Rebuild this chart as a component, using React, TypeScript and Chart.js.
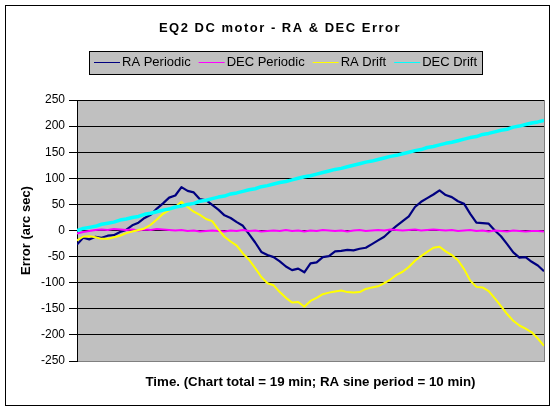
import React, { useEffect, useRef } from "react";
import { Chart, registerables } from "chart.js";

Chart.register(...registerables);

// ---- data ----
const TIME_MIN = [
  0, 0.25, 0.5, 0.75, 1, 1.25, 1.5, 1.75, 2, 2.25, 2.5, 2.75, 3, 3.25, 3.5, 3.75,
  4, 4.25, 4.5, 4.75, 5, 5.25, 5.5, 5.75, 6, 6.25, 6.5, 6.75, 7, 7.25, 7.5, 7.75,
  8, 8.25, 8.5, 8.75, 9, 9.25, 9.5, 9.75, 10, 10.25, 10.5, 10.75, 11, 11.25, 11.5,
  11.75, 12, 12.25, 12.5, 12.75, 13, 13.25, 13.5, 13.75, 14, 14.25, 14.5, 14.75,
  15, 15.25, 15.5, 15.75, 16, 16.25, 16.5, 16.75, 17, 17.25, 17.5, 17.75, 18,
  18.25, 18.5, 18.75, 19,
];

const RA_PERIODIC = [
  -27, -14, -17, -12, -14, -10, -9, -3, 1, 10,
  15, 24, 30, 42, 52, 63, 67, 83, 76, 73,
  60, 58, 49, 40, 29, 24, 16, 9, -7, -23,
  -41, -47, -51, -59, -69, -76, -73, -80, -63, -61,
  -51, -49, -40, -39, -37, -38, -35, -33, -26, -19,
  -12, -1, 9, 18, 27, 45, 55, 62, 69, 77,
  68, 64, 56, 51, 32, 15, 14, 13, 0, -11,
  -26, -42, -52, -51, -60, -67, -78,
];

const DEC_PERIODIC = [
  -6, -3, -1, 1, 2, 1, 3, 2, 1, 2,
  0, 2, 1, 3, 2, 1, 0, 1, -1, 0,
  -2, -1, 0, -1, -2, 0, -1, 1, -1, 0,
  -2, -1, 0, -1, 1, -1, 0, -2, 0, -1,
  1, 0, -1, 0, -2, 0, 1, -1, 0, 1,
  0, 2, 1, 0, 1, 2, 0, 1, 2, 1,
  0, 1, -1, 0, 1, -1, 0, -2, 0, -1,
  -2, 0, -1, -2, -1, -1, -2,
];

const RA_DRIFT = [
  -19, -12, -11, -13, -16, -16, -13, -10, -5, -2,
  1, 4, 11, 21, 32, 39, 45, 55, 45, 36,
  30, 22, 18, 2, -12, -21, -29, -44, -56, -72,
  -89, -101, -105, -118, -129, -138, -137, -146, -135, -129,
  -122, -119, -117, -115, -118, -119, -118, -112, -109, -107,
  -101, -94, -85, -79, -70, -58, -49, -41, -33, -31,
  -40, -47, -57, -74, -96, -108, -109, -116, -130, -145,
  -160, -173, -182, -188, -195, -207, -221,
];

const DEC_DRIFT = [
  0, 4, 6, 8, 12, 14, 16, 20, 22, 25,
  27, 31, 33, 36, 39, 41, 45, 47, 50, 52,
  56, 58, 61, 64, 66, 70, 72, 75, 78, 80,
  84, 86, 89, 92, 94, 97, 100, 103, 105, 108,
  111, 114, 117, 119, 122, 125, 128, 131, 133, 136,
  139, 142, 144, 147, 150, 153, 155, 159, 161, 164,
  167, 169, 172, 175, 178, 180, 184, 186, 189, 192,
  194, 198, 200, 203, 206, 208, 211,
];

const SERIES_NAMES = ["RA Periodic", "DEC Periodic", "RA Drift", "DEC Drift"];
const SERIES_VALUES = [RA_PERIODIC, DEC_PERIODIC, RA_DRIFT, DEC_DRIFT];
const SERIES_COLORS = ["#000080", "#FF00FF", "#FFFF00", "#00FFFF"];
const SERIES_WIDTHS = [2.2, 2, 2, 3.5];

const Y_MIN = -250;
const Y_MAX = 250;
const Y_STEP = 50;

const TITLE = "EQ2 DC motor - RA & DEC Error";
const X_TITLE = "Time. (Chart total = 19 min; RA sine period = 10 min)";
const Y_TITLE = "Error (arc sec)";

const FONT = '"Liberation Sans", Arial, Helvetica, sans-serif';

// ---- decoration plugin: plot background, frame, title and legend ----
const excelLook = {
  id: "excelLook",
  beforeDraw(chart: any) {
    const { ctx, chartArea: a } = chart;
    ctx.save();
    ctx.fillStyle = "#C0C0C0";
    ctx.fillRect(a.left, a.top, a.right - a.left, a.bottom - a.top);
    ctx.restore();
  },
  afterDraw(chart: any) {
    const { ctx, chartArea: a } = chart;
    ctx.save();

    // plot area right edge (gray)
    ctx.strokeStyle = "#808080";
    ctx.lineWidth = 1;
    ctx.beginPath();
    ctx.moveTo(Math.round(a.right) + 0.5, a.top);
    ctx.lineTo(Math.round(a.right) + 0.5, a.bottom + 1);
    ctx.stroke();

    // outer chart frame
    ctx.strokeStyle = "#000";
    ctx.strokeRect(5.5, 5.5, 544, 400);

    // title
    ctx.fillStyle = "#000";
    ctx.font = `bold 13px ${FONT}`;
    (ctx as any).letterSpacing = "1.5px";
    ctx.textAlign = "center";
    ctx.textBaseline = "alphabetic";
    ctx.fillText(TITLE, 280, 31.5);
    (ctx as any).letterSpacing = "0px";

    // legend
    ctx.font = `13px ${FONT}`;
    const lineLen = 26;
    const gapAfterLine = 2;
    const gapItems = 8;
    const pad = 5;
    const widths = chart.data.datasets.map((d: any) => ctx.measureText(d.label).width);
    let total = 0;
    widths.forEach((w: number) => (total += lineLen + gapAfterLine + w));
    total += gapItems * (widths.length - 1);
    const boxW = Math.round(total + pad * 2);
    const boxLeft = Math.round(285 - boxW / 2);
    const boxTop = 51;
    const boxH = 23;
    ctx.fillStyle = "#C0C0C0";
    ctx.fillRect(boxLeft, boxTop, boxW, boxH);
    ctx.strokeStyle = "#000";
    ctx.lineWidth = 1;
    ctx.strokeRect(boxLeft + 0.5, boxTop + 0.5, boxW, boxH);

    let x = boxLeft + pad;
    ctx.textAlign = "left";
    chart.data.datasets.forEach((d: any, i: number) => {
      ctx.strokeStyle = d.borderColor;
      ctx.lineWidth = 1;
      ctx.beginPath();
      ctx.moveTo(x, 62.5);
      ctx.lineTo(x + lineLen, 62.5);
      ctx.stroke();
      x += lineLen + gapAfterLine;
      ctx.fillStyle = "#000";
      ctx.fillText(d.label, x, 66);
      x += widths[i] + gapItems;
    });

    ctx.restore();
  },
};

export default function App() {
  const canvasRef = useRef<HTMLCanvasElement | null>(null);

  useEffect(() => {
    if (!canvasRef.current) return;
    const datasets = SERIES_NAMES.map((name, i) => ({
      label: name,
      data: SERIES_VALUES[i].map((v, k) => ({ x: TIME_MIN[k], y: v })),
      borderColor: SERIES_COLORS[i],
      backgroundColor: SERIES_COLORS[i],
      borderWidth: SERIES_WIDTHS[i],
      pointRadius: 0,
      tension: 0,
      fill: false,
      borderJoinStyle: "round" as const,
      order: SERIES_NAMES.length - 1 - i,
    }));

    const chart = new Chart(canvasRef.current, {
      type: "line",
      data: { datasets },
      plugins: [excelLook],
      options: {
        animation: false,
        responsive: false,
        maintainAspectRatio: false,
        devicePixelRatio: 1,
        layout: { padding: { top: 100, right: 16, bottom: 0, left: 0 } },
        plugins: {
          legend: { display: false },
          title: { display: false },
          tooltip: { enabled: false },
        },
        scales: {
          x: {
            type: "linear",
            min: TIME_MIN[0],
            max: TIME_MIN[TIME_MIN.length - 1],
            ticks: { display: false },
            grid: { display: false, drawTicks: false },
            border: { display: true, color: "#808080", width: 1 },
            title: {
              display: true,
              text: X_TITLE,
              color: "#000",
              font: { family: FONT, size: 13.3, weight: "bold" },
              padding: { top: 0, bottom: 21 },
            },
            afterFit: (s: any) => {
              s.height = 50;
            },
          },
          y: {
            min: Y_MIN,
            max: Y_MAX,
            ticks: {
              stepSize: Y_STEP,
              color: "#000",
              font: { family: FONT, size: 12 },
              padding: 4,
            },
            grid: {
              color: (c: any) => (c.tick && c.tick.value === Y_MIN ? "#808080" : "#000"),
              lineWidth: 1,
              tickLength: 8,
              tickColor: "#000",
              drawTicks: true,
            },
            border: { display: true, color: "#000", width: 1 },
            title: {
              display: true,
              text: Y_TITLE,
              color: "#000",
              font: { family: FONT, size: 13, weight: "bold" },
              padding: { top: 19, bottom: 0 },
            },
            afterFit: (s: any) => {
              s.width = 77;
            },
          },
        },
      },
    });
    return () => chart.destroy();
  }, []);

  return (
    <div style={{ position: "absolute", left: 0, top: 0, width: 560, height: 411, background: "#fff" }}>
      <canvas ref={canvasRef} width={560} height={411} style={{ display: "block" }} />
    </div>
  );
}
